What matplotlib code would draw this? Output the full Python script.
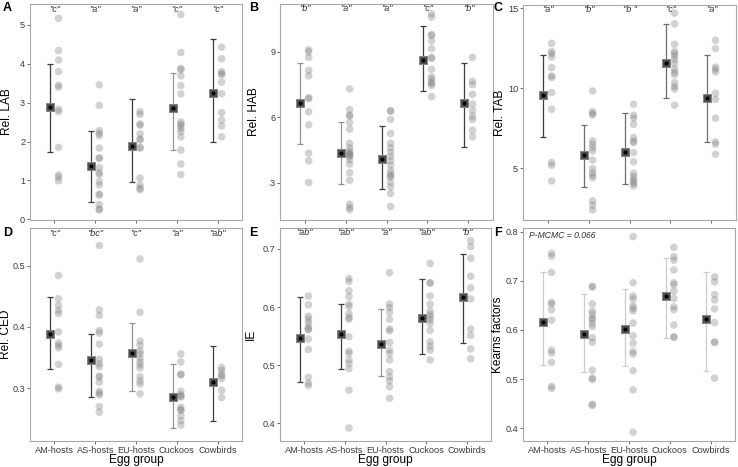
import numpy as np
import matplotlib
matplotlib.use("Agg")
import matplotlib.pyplot as plt

plt.rcParams["font.family"] = ["Liberation Sans", "DejaVu Sans"]

groups = ["AM-hosts", "AS-hosts", "EU-hosts", "Cuckoos", "Cowbirds"]

# ---- A: Rel. LAB
lab_pts = [
    [5.17, 4.34, 4.10, 3.80, 3.45, 3.40, 2.83, 2.77, 1.85, 1.14, 1.08, 0.99],
    [3.46, 2.93, 2.28, 2.21, 2.15, 1.83, 1.58, 1.57, 1.33, 1.20, 1.15, 0.97, 0.88, 0.65, 0.62, 0.38, 0.26, 0.24],
    [2.77, 2.70, 2.45, 2.42, 2.20, 2.07, 2.04, 1.85, 1.83, 1.06, 0.88, 0.80, 0.76],
    [5.27, 4.29, 3.88, 3.85, 3.69, 3.44, 3.23, 2.50, 2.45, 2.40, 2.33, 2.25, 2.12, 1.78, 1.42, 1.15],
    [4.43, 4.13, 3.80, 3.75, 3.72, 3.53, 3.23, 2.74, 2.55, 2.40, 2.12],
]
lab_mean = [2.90, 1.38, 1.89, 2.87, 3.26]
lab_lo = [1.74, 0.45, 0.97, 1.79, 1.98]
lab_hi = [3.99, 2.28, 3.10, 3.76, 4.65]
lab_letters = ['"c"', '"a"', '"a"', '"c"', '"c"']

# ---- B: Rel. HAB
hab_pts = [
    [9.1, 9.0, 8.75, 8.15, 7.9, 6.9, 6.85, 6.25, 5.65, 4.35, 4.0, 3.0],
    [7.3, 6.35, 6.1, 6.05, 5.75, 5.45, 4.8, 4.6, 4.45, 4.35, 4.3, 4.25, 4.2, 4.05, 3.85, 3.45, 3.1, 2.0, 1.85, 1.75],
    [6.3, 6.28, 5.9, 5.25, 4.8, 4.6, 4.4, 4.2, 4.0, 3.8, 3.55, 3.4, 3.3, 3.25, 3.0, 2.8, 2.5, 1.9],
    [10.75, 10.6, 9.8, 9.75, 9.5, 9.15, 8.75, 8.7, 8.2, 7.85, 7.75, 7.6, 7.55, 7.45, 6.95],
    [8.75, 7.65, 7.5, 7.05, 6.6, 6.3, 6.05, 5.9, 5.4, 5.1],
]
hab_mean = [6.65, 4.38, 4.10, 8.65, 6.65]
hab_lo = [4.75, 2.95, 2.70, 7.20, 4.65]
hab_hi = [8.48, 5.77, 5.60, 10.20, 8.48]
hab_letters = ['"b"', '"a"', '"a"', '"c"', '"b"']

# ---- C: Rel. TAB
tab_pts = [
    [12.81, 12.29, 12.17, 11.95, 11.29, 10.77, 10.67, 9.73, 8.69, 5.36, 5.19, 4.21],
    [9.83, 8.54, 8.42, 8.33, 6.71, 6.50, 6.29, 6.08, 5.52, 4.98, 4.73, 4.56, 4.42, 2.96, 2.69, 2.40],
    [9.0, 8.31, 8.13, 7.75, 6.92, 6.69, 6.60, 5.98, 5.40, 4.69, 4.48, 4.31, 4.17, 4.04, 3.90],
    [14.69, 14.02, 12.75, 12.29, 12.17, 12.0, 11.8, 11.55, 11.2, 11.0, 10.85, 10.35, 10.1, 9.95, 8.94],
    [13.0, 12.48, 11.33, 11.19, 11.02, 9.69, 9.31, 8.13, 6.65, 6.50, 5.88],
]
tab_mean = [9.58, 5.83, 6.04, 11.56, 9.42]
tab_lo = [6.96, 3.83, 4.02, 9.38, 6.67]
tab_hi = [12.06, 7.69, 8.44, 14.04, 12.06]
tab_letters = ['"a"', '"b"', '"b "', '"c"', '"a"']

# ---- D: Rel. CED
ced_pts = [
    [0.484, 0.446, 0.435, 0.427, 0.422, 0.392, 0.374, 0.370, 0.366, 0.339, 0.302, 0.299],
    [0.533, 0.428, 0.419, 0.394, 0.390, 0.372, 0.347, 0.340, 0.335, 0.320, 0.318, 0.310, 0.295, 0.292, 0.289, 0.270, 0.261],
    [0.511, 0.424, 0.377, 0.370, 0.361, 0.356, 0.349, 0.343, 0.338, 0.333, 0.319, 0.312, 0.307, 0.291],
    [0.356, 0.343, 0.323, 0.322, 0.295, 0.289, 0.287, 0.286, 0.269, 0.265, 0.264, 0.255, 0.247, 0.240],
    [0.334, 0.329, 0.323, 0.320, 0.316, 0.297, 0.285],
]
ced_mean = [0.388, 0.346, 0.357, 0.286, 0.310]
ced_lo = [0.331, 0.286, 0.296, 0.236, 0.247]
ced_hi = [0.449, 0.389, 0.407, 0.340, 0.369]
ced_letters = ['"c"', '"bc"', '"c"', '"a"', '"ab"']

# ---- E: IE
ie_pts = [
    [0.619, 0.604, 0.584, 0.579, 0.573, 0.566, 0.562, 0.561, 0.545, 0.527, 0.479, 0.469, 0.465],
    [0.649, 0.644, 0.628, 0.618, 0.605, 0.601, 0.589, 0.582, 0.579, 0.549, 0.524, 0.520, 0.509, 0.503, 0.494, 0.457, 0.392],
    [0.659, 0.605, 0.599, 0.591, 0.579, 0.562, 0.559, 0.539, 0.526, 0.520, 0.509, 0.489, 0.480, 0.473, 0.463, 0.443],
    [0.675, 0.642, 0.641, 0.619, 0.605, 0.593, 0.587, 0.583, 0.578, 0.572, 0.560, 0.540, 0.533, 0.526, 0.509],
    [0.714, 0.704, 0.684, 0.653, 0.633, 0.614, 0.562, 0.551, 0.528, 0.511],
]
ie_mean = [0.547, 0.553, 0.536, 0.582, 0.617]
ie_lo = [0.471, 0.494, 0.482, 0.520, 0.538]
ie_hi = [0.617, 0.605, 0.597, 0.648, 0.691]
ie_letters = ['"ab"', '"ab"', '"a"', '"ab"', '"b"']

# ---- F: Kearns factors
kf_pts = [
    [0.756, 0.750, 0.717, 0.656, 0.653, 0.641, 0.620, 0.559, 0.553, 0.534, 0.485, 0.481],
    [0.689, 0.687, 0.653, 0.638, 0.632, 0.624, 0.621, 0.613, 0.607, 0.584, 0.575, 0.518, 0.502, 0.499, 0.449, 0.446],
    [0.790, 0.696, 0.669, 0.663, 0.649, 0.644, 0.639, 0.614, 0.588, 0.573, 0.556, 0.551, 0.517, 0.478, 0.392],
    [0.768, 0.749, 0.742, 0.722, 0.696, 0.692, 0.679, 0.664, 0.647, 0.641, 0.610, 0.586, 0.585],
    [0.708, 0.698, 0.672, 0.661, 0.643, 0.615, 0.576, 0.574, 0.502],
]
kf_mean = [0.617, 0.592, 0.601, 0.669, 0.622]
kf_lo = [0.528, 0.515, 0.527, 0.584, 0.517]
kf_hi = [0.717, 0.673, 0.683, 0.746, 0.717]
kf_note = "P-MCMC = 0.066"

DARK, MID, LIGHT = "#3d3d3d", "#939393", "#cccccc"

fig = plt.figure(figsize=(7.38, 4.67), dpi=100)
W, H = 738.0, 467.0


def make_ax(l, t, r, b):
    return fig.add_axes([l / W, 1 - b / H, (r - l) / W, (b - t) / H])


def panel(ax, pts, mean, lo, hi, bar_cols, ylim, yticks, ylabel, ylab_x, letters=None, let_y=None, bottom=False):
    x = np.arange(len(groups))
    for i in range(len(groups)):
        ax.scatter(np.full(len(pts[i]), x[i] + 0.1), pts[i], s=30, color="#808080", alpha=0.35,
                   edgecolors="none", zorder=2)
        ax.errorbar(x[i] - 0.1, mean[i], yerr=[[mean[i] - lo[i]], [hi[i] - mean[i]]], fmt="none",
                    ecolor=bar_cols[i], elinewidth=0.9, capsize=2.2, capthick=0.9, zorder=3)
    ax.plot(x - 0.1, mean, "s", ms=5.8, mfc="#505050", mec="#858585", mew=0.7, ls="none", zorder=4)
    ax.plot(x - 0.1, mean, "o", ms=1.9, color="black", ls="none", zorder=5)
    if letters is not None:
        for i in range(len(groups)):
            ax.text(x[i], let_y, letters[i], ha="center", va="center", fontsize=6.5, style="italic",
                    color="#333333")
    ax.set_xlim(-0.6, 4.6)
    ax.set_ylim(*ylim)
    ax.set_yticks(yticks)
    ax.set_xticks(x)
    for s in ax.spines.values():
        s.set_color("#a8a8a8")
        s.set_linewidth(0.8)
    ax.tick_params(length=2, width=0.6, color="#555555", labelsize=6.6, labelcolor="#3a3a3a", pad=1.5)
    if bottom:
        ax.set_xticklabels(groups)
        ax.set_xlabel("Egg group", fontsize=8.6, va="baseline")
        ax.xaxis.set_label_coords(0.5, -22.0 / 213)
    else:
        ax.set_xticklabels([])
    ax.set_ylabel(ylabel, fontsize=8.6)
    ax.yaxis.set_label_coords(ylab_x, 0.5)


axA = make_ax(30, 4, 242, 220)
panel(axA, lab_pts, lab_mean, lab_lo, lab_hi, [DARK, DARK, DARK, MID, DARK],
      (-0.02, 5.54), [0, 1, 2, 3, 4, 5], "Rel. LAB", -0.079, lab_letters, 5.4)
axB = make_ax(280, 4, 493, 220)
panel(axB, hab_pts, hab_mean, hab_lo, hab_hi, [MID, MID, DARK, DARK, DARK],
      (1.28, 11.2), [3, 6, 9], "Rel. HAB", -0.094, hab_letters, 10.99)
axC = make_ax(523, 5, 736, 220)
panel(axC, tab_pts, tab_mean, tab_lo, tab_hi, [DARK, "#6e6e6e", "#6e6e6e", "#6e6e6e", "#6e6e6e"],
      (1.77, 15.2), [5, 10, 15], "Rel. TAB", -0.082, tab_letters, 14.94)
axD = make_ax(30, 228, 242, 441)
panel(axD, ced_pts, ced_mean, ced_lo, ced_hi, [DARK, DARK, MID, MID, DARK],
      (0.214, 0.5615), [0.3, 0.4, 0.5], "Rel. CED", -0.086, ced_letters, 0.553, bottom=True)
axE = make_ax(280, 228, 491, 441)
panel(axE, ie_pts, ie_mean, ie_lo, ie_hi, [DARK, DARK, MID, DARK, DARK],
      (0.3695, 0.736), [0.4, 0.5, 0.6, 0.7], "IE", -0.109, ie_letters, 0.7287, bottom=True)
axF = make_ax(523, 228, 735, 441)
panel(axF, kf_pts, kf_mean, kf_lo, kf_hi, [LIGHT] * 5,
      (0.374, 0.8075), [0.4, 0.5, 0.6, 0.7, 0.8], "Kearns factors", -0.088, bottom=True)
axF.text(0.03, 0.985, kf_note, transform=axF.transAxes, ha="left", va="top", fontsize=6.2,
         style="italic", color="#333333")

for lab, (px, py) in zip("ABCDEF", [(3, 2), (249, 2), (494, 2), (3, 227), (249, 227), (494, 227)]):
    fig.text(px / W, 1 - py / H, lab, ha="left", va="top", fontsize=9, fontweight="bold")

fig.savefig("out.png", dpi=100)
